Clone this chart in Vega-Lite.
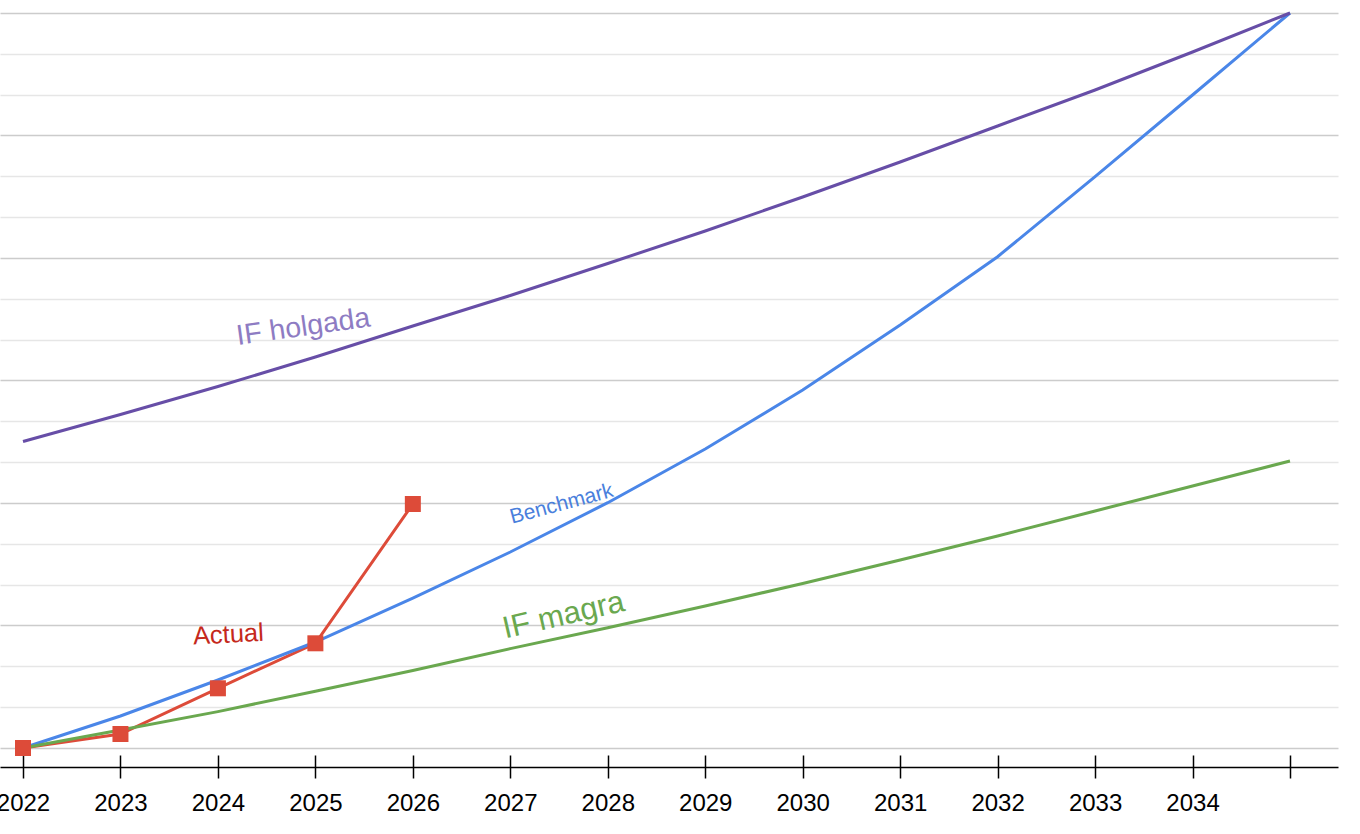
{
  "$schema": "https://vega.github.io/schema/vega-lite/v6.json",
  "width": 1338,
  "height": 767,
  "padding": {"left": 0, "top": 0, "right": 22, "bottom": 67},
  "autosize": "none",
  "background": "white",
  "config": {"view": {"stroke": null}, "font": "Liberation Sans"},
  "datasets": {
    "series": [
      {"series": "IF holgada", "year": 2022, "value": 75.06},
      {"series": "IF holgada", "year": 2023, "value": 81.67},
      {"series": "IF holgada", "year": 2024, "value": 88.53},
      {"series": "IF holgada", "year": 2025, "value": 95.76},
      {"series": "IF holgada", "year": 2026, "value": 103.35},
      {"series": "IF holgada", "year": 2027, "value": 110.82},
      {"series": "IF holgada", "year": 2028, "value": 118.65},
      {"series": "IF holgada", "year": 2029, "value": 126.61},
      {"series": "IF holgada", "year": 2030, "value": 134.94},
      {"series": "IF holgada", "year": 2031, "value": 143.51},
      {"series": "IF holgada", "year": 2032, "value": 152.33},
      {"series": "IF holgada", "year": 2033, "value": 161.14},
      {"series": "IF holgada", "year": 2034, "value": 170.45},
      {"series": "IF holgada", "year": 2035, "value": 180.0},
      {"series": "Benchmark", "year": 2022, "value": 0},
      {"series": "Benchmark", "year": 2023, "value": 7.84},
      {"series": "Benchmark", "year": 2024, "value": 16.65},
      {"series": "Benchmark", "year": 2025, "value": 25.96},
      {"series": "Benchmark", "year": 2026, "value": 36.73},
      {"series": "Benchmark", "year": 2027, "value": 48.0},
      {"series": "Benchmark", "year": 2028, "value": 60.07},
      {"series": "Benchmark", "year": 2029, "value": 73.22},
      {"series": "Benchmark", "year": 2030, "value": 87.67},
      {"series": "Benchmark", "year": 2031, "value": 103.59},
      {"series": "Benchmark", "year": 2032, "value": 120.32},
      {"series": "Benchmark", "year": 2033, "value": 139.91},
      {"series": "Benchmark", "year": 2034, "value": 159.92},
      {"series": "Benchmark", "year": 2035, "value": 180.0},
      {"series": "IF magra", "year": 2022, "value": 0},
      {"series": "IF magra", "year": 2023, "value": 4.41},
      {"series": "IF magra", "year": 2024, "value": 8.91},
      {"series": "IF magra", "year": 2025, "value": 13.91},
      {"series": "IF magra", "year": 2026, "value": 18.96},
      {"series": "IF magra", "year": 2027, "value": 24.34},
      {"series": "IF magra", "year": 2028, "value": 29.46},
      {"series": "IF magra", "year": 2029, "value": 34.78},
      {"series": "IF magra", "year": 2030, "value": 40.29},
      {"series": "IF magra", "year": 2031, "value": 46.04},
      {"series": "IF magra", "year": 2032, "value": 51.92},
      {"series": "IF magra", "year": 2033, "value": 58.04},
      {"series": "IF magra", "year": 2034, "value": 64.16},
      {"series": "IF magra", "year": 2035, "value": 70.29},
      {"series": "Actual", "year": 2022, "value": 0},
      {"series": "Actual", "year": 2023, "value": 3.43},
      {"series": "Actual", "year": 2024, "value": 14.62},
      {"series": "Actual", "year": 2025, "value": 25.64},
      {"series": "Actual", "year": 2026, "value": 59.76}
    ],
    "labels": [
      {"series": "IF holgada", "year": 2024.876, "value": 103.18, "text": "IF holgada"},
      {"series": "Benchmark", "year": 2027.527, "value": 59.68, "text": "Benchmark"},
      {"series": "IF magra", "year": 2027.548, "value": 32.37, "text": "IF magra"},
      {"series": "Actual", "year": 2024.107, "value": 27.75, "text": "Actual"}
    ]
  },
  "encoding": {
    "x": {"field": "year", "type": "quantitative", "scale": {"domain": [2021.764, 2035.4925], "nice": false, "zero": false}, "axis": null},
    "y": {
      "field": "value", "type": "quantitative",
      "scale": {"domain": [-4.653, 183.18], "nice": false, "zero": false},
      "axis": {
        "values": [0, 10, 20, 30, 40, 50, 60, 70, 80, 90, 100, 110, 120, 130, 140, 150, 160, 170, 180],
        "grid": true,
        "gridColor": {"condition": {"test": "datum.value % 30 === 0", "value": "#cccccc"}, "value": "#e6e6e6"},
        "gridWidth": 1.3,
        "labels": false, "ticks": false, "domain": false, "title": null
      }
    }
  },
  "layer": [
    {
      "data": {"name": "series"},
      "transform": [{"filter": "datum.series === 'Actual'"}],
      "mark": {"type": "line", "color": "#dd4b39", "strokeWidth": 3},
      "encoding": {
        "x": {"field": "year", "type": "quantitative", "axis": {
          "orient": "bottom", "values": [2022, 2023, 2024, 2025, 2026, 2027, 2028, 2029, 2030, 2031, 2032, 2033, 2034, 2035],
          "format": "d", "labelExpr": "datum.value == 2035 ? '' : datum.label",
          "domain": true, "domainColor": "#000000", "domainWidth": 1.5,
          "ticks": true, "tickColor": "#000000", "tickWidth": 1.5, "tickSize": 11,
          "labelFontSize": 24, "labelColor": "#000000", "labelPadding": 13, "labelFlush": false, "labelOverlap": false, "labelBound": false,
          "grid": false, "title": null
        }}
      }
    },
    {
      "data": {"name": "series"},
      "transform": [{"filter": "datum.series === 'Benchmark'"}],
      "mark": {"type": "line", "color": "#4a86e8", "strokeWidth": 3},
      "encoding": {
        "x": {"field": "year", "type": "quantitative", "axis": {
          "orient": "bottom", "offset": -12, "values": [2022, 2023, 2024, 2025, 2026, 2027, 2028, 2029, 2030, 2031, 2032, 2033, 2034, 2035],
          "domain": false, "ticks": true, "tickColor": "#000000", "tickWidth": 1.5, "tickSize": 12,
          "labels": false, "grid": false, "title": null
        }}
      }
    },
    {
      "data": {"name": "series"},
      "transform": [{"filter": "datum.series === 'IF holgada'"}],
      "mark": {"type": "line", "color": "#674ea7", "strokeWidth": 3}
    },
    {
      "data": {"name": "series"},
      "transform": [{"filter": "datum.series === 'IF magra'"}],
      "mark": {"type": "line", "color": "#6aa84f", "strokeWidth": 3}
    },
    {
      "data": {"name": "series"},
      "transform": [{"filter": "datum.series === 'Actual'"}],
      "mark": {"type": "point", "shape": "square", "size": 256, "filled": true, "opacity": 1, "color": "#dd4b39"}
    },
    {
      "data": {"name": "labels"},
      "transform": [{"filter": "datum.series === 'IF holgada'"}],
      "mark": {"type": "text", "color": "#8e7cc3", "fontSize": 28.5, "angle": -8, "align": "center", "baseline": "middle"},
      "encoding": {"text": {"field": "text"}}
    },
    {
      "data": {"name": "labels"},
      "transform": [{"filter": "datum.series === 'Benchmark'"}],
      "mark": {"type": "text", "color": "#4a7fdc", "fontSize": 21, "angle": -15, "align": "center", "baseline": "middle"},
      "encoding": {"text": {"field": "text"}}
    },
    {
      "data": {"name": "labels"},
      "transform": [{"filter": "datum.series === 'IF magra'"}],
      "mark": {"type": "text", "color": "#6aa84f", "fontSize": 31, "angle": -13, "align": "center", "baseline": "middle"},
      "encoding": {"text": {"field": "text"}}
    },
    {
      "data": {"name": "labels"},
      "transform": [{"filter": "datum.series === 'Actual'"}],
      "mark": {"type": "text", "color": "#c5291c", "fontSize": 25.5, "angle": -3, "align": "center", "baseline": "middle"},
      "encoding": {"text": {"field": "text"}}
    }
  ],
  "resolve": {"axis": {"x": "independent"}}
}
